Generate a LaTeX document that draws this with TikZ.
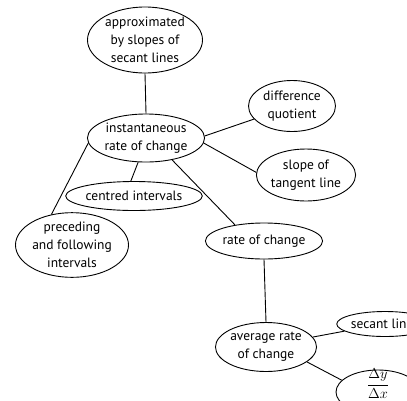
\documentclass[tikz,border=0pt]{standalone}
\usepackage{fontspec}
\usepackage{amsmath}
\setmainfont{PT Sans}
\usetikzlibrary{shapes.geometric}

\tikzset{
	idea/.style={draw, ellipse, line width=0.9pt, inner sep=0pt, align=center,
		font=\fontsize{13.5}{18}\selectfont},
	link/.style={line width=0.9pt}
}

\begin{document}
\begin{tikzpicture}[x=1pt, y=-1pt]
	\clip (0, 0) rectangle (407, 400);
	% Concept bubbles:
	\node[idea, minimum width=115pt, minimum height=66pt] (approx) at (145, 40) {approximated\\by slopes of\\secant lines};
	\node[idea, minimum width=115pt, minimum height=48pt] (instant) at (146, 138) {instantaneous\\rate of change};
	\node[idea, minimum width=87pt, minimum height=51pt] (diffq) at (292, 106) {difference\\quotient};
	\node[idea, minimum width=87pt, minimum height=52pt] (tangent) at (306, 175) {slope of\\tangent line};
	\node[idea, minimum width=112pt, minimum height=29pt] (centred) at (134, 196) {centred intervals};
	\node[idea, minimum width=113pt, minimum height=60pt] (preceding) at (72, 245) {preceding\\and following\\intervals};
	\node[idea, minimum width=102pt, minimum height=36pt] (rate) at (264, 241) {rate of change};
	\node[idea, minimum width=100pt, minimum height=49pt] (average) at (266, 347) {average rate\\of change};
	\node[idea, minimum width=94pt, minimum height=25pt] (secant) at (385, 324) {secant lines};
	\node[idea, minimum width=84pt, minimum height=44pt] (ratio) at (378, 392) {\raisebox{3.6pt}[0pt][0pt]{$\displaystyle\frac{\Delta y}{\Delta x}$}};
	% Links:
	\draw[link] (approx.south) -- (instant.north);
	\draw[link] (instant.2) -- (diffq.199);
	\draw[link] (instant.355) -- (tangent.177);
	\draw[link] (instant.252) -- (centred.102);
	\draw[link] (instant.320) -- (rate.151);
	\draw[link] (instant.185) -- (preceding.124);
	\draw[link] (rate.south) -- (average.north);
	\draw[link] (average.12) -- (secant.190);
	\draw[link] (average.340) -- (ratio.162);
\end{tikzpicture}
\end{document}
